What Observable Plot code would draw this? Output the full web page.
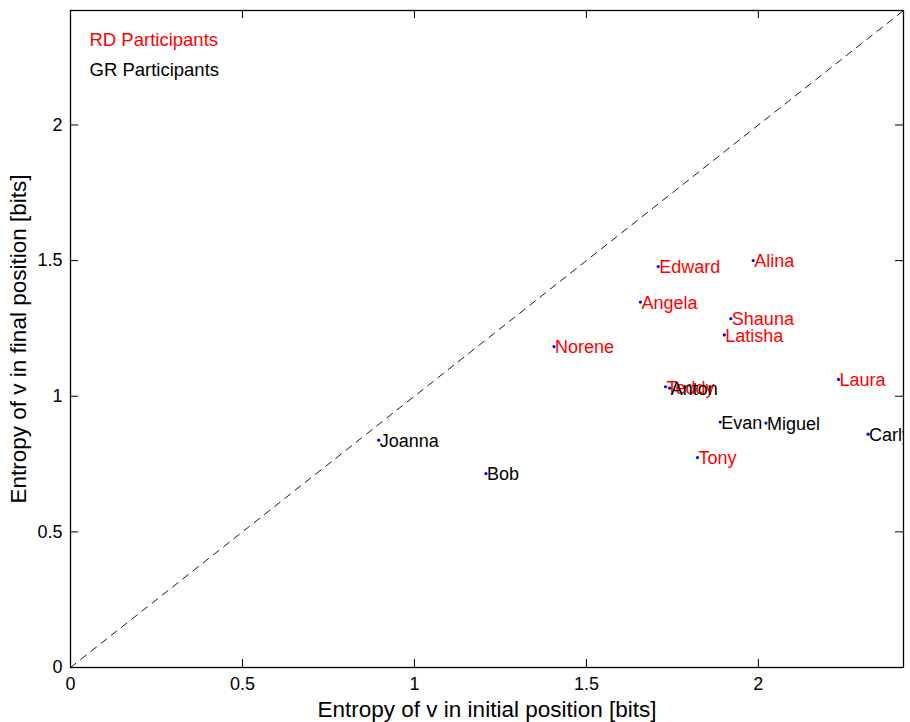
<!DOCTYPE html>
<html>
<head>
<meta charset="utf-8">
<script src="https://cdn.jsdelivr.net/npm/d3@7"></script>
<script src="https://cdn.jsdelivr.net/npm/@observablehq/plot@0.6"></script>
<style>
  html, body { margin: 0; padding: 0; background: white; }
</style>
</head>
<body>
<div id="chart"></div>
<script>
// Data
const names   = ["Edward","Alina","Angela","Shauna","Latisha","Norene","Teddy","Anton","Laura","Evan","Miguel","Carly","Tony","Joanna","Bob"];
const groups  = ["RD","RD","RD","RD","RD","RD","RD","GR","RD","GR","GR","GR","RD","GR","GR"];
const initialEntropy = [1.709,1.985,1.657,1.920,1.901,1.406,1.730,1.742,2.233,1.889,2.022,2.319,1.823,0.896,1.208];
const finalEntropy   = [1.478,1.500,1.347,1.286,1.226,1.183,1.035,1.030,1.062,0.905,0.901,0.860,0.774,0.838,0.715];
const axisMax = 2.422;
const xTicks = [0, 0.5, 1, 1.5, 2];
const yTicks = [0, 0.5, 1, 1.5, 2];
const legendLabels = ["RD Participants", "GR Participants"];
const groupColors = {RD: "red", GR: "black"};

const data = names.map((n, i) => ({name: n, group: groups[i], x: initialEntropy[i], y: finalEntropy[i]}));
const diag = [{v: 0}, {v: axisMax}];

const W = 910, H = 722;
const mL = 70, mR = 7, mT = 10, mB = 55;
const plotW = W - mL - mR, plotH = H - mT - mB;
const tickLen = 8;
const fmt = d => d3.format("~g")(d);

const chart = Plot.plot({
  width: W, height: H,
  marginLeft: mL, marginRight: mR, marginTop: mT, marginBottom: mB,
  x: {domain: [0, axisMax]},
  y: {domain: [0, axisMax]},
  style: {fontFamily: "'Liberation Sans', Arial, Helvetica, sans-serif", fontSize: "18px", color: "black", background: "white"},
  marks: [
    Plot.line(diag, {x: "v", y: "v", stroke: "black", strokeWidth: 0.9, strokeDasharray: "7,6"}),
    // inward ticks on all four sides
    Plot.tickX(xTicks, {x: d => d, stroke: "black", strokeWidth: 1, insetTop: plotH - tickLen}),
    Plot.tickX(xTicks, {x: d => d, stroke: "black", strokeWidth: 1, insetBottom: plotH - tickLen}),
    Plot.tickY(yTicks, {y: d => d, stroke: "black", strokeWidth: 1, insetRight: plotW - tickLen}),
    Plot.tickY(yTicks, {y: d => d, stroke: "black", strokeWidth: 1, insetLeft: plotW - tickLen}),
    Plot.axisX({ticks: xTicks, tickSize: 0, tickPadding: 10, tickFormat: fmt, label: null, fontSize: 18}),
    Plot.axisY({ticks: yTicks, tickSize: 0, tickPadding: 8, tickFormat: fmt, label: null, fontSize: 18}),
    Plot.dot(data, {x: "x", y: "y", r: 1.6, fill: "blue", stroke: null}),
    Plot.text(data, {x: "x", y: "y", text: "name", textAnchor: "start", dx: 1, dy: 1, fontSize: 18,
                     fill: d => groupColors[d.group], clip: "frame"}),
    Plot.text([legendLabels[0]], {frameAnchor: "top-left", lineAnchor: "middle", dx: 19, dy: 30, fontSize: 18.5, fill: groupColors.RD, textAnchor: "start"}),
    Plot.text([legendLabels[1]], {frameAnchor: "top-left", lineAnchor: "middle", dx: 19, dy: 60, fontSize: 18.5, fill: groupColors.GR, textAnchor: "start"}),
    Plot.text(["Entropy of v in initial position [bits]"], {frameAnchor: "bottom", lineAnchor: "middle", textAnchor: "middle", dy: 42, fontSize: 22.5, fill: "black"}),
    Plot.text(["Entropy of v in final position [bits]"], {frameAnchor: "left", lineAnchor: "middle", textAnchor: "middle", dx: -52, rotate: -90, fontSize: 22.5, fill: "black"}),
    Plot.frame({stroke: "black", strokeWidth: 1.3})
  ]
});
document.getElementById("chart").appendChild(chart);
</script>
</body>
</html>
